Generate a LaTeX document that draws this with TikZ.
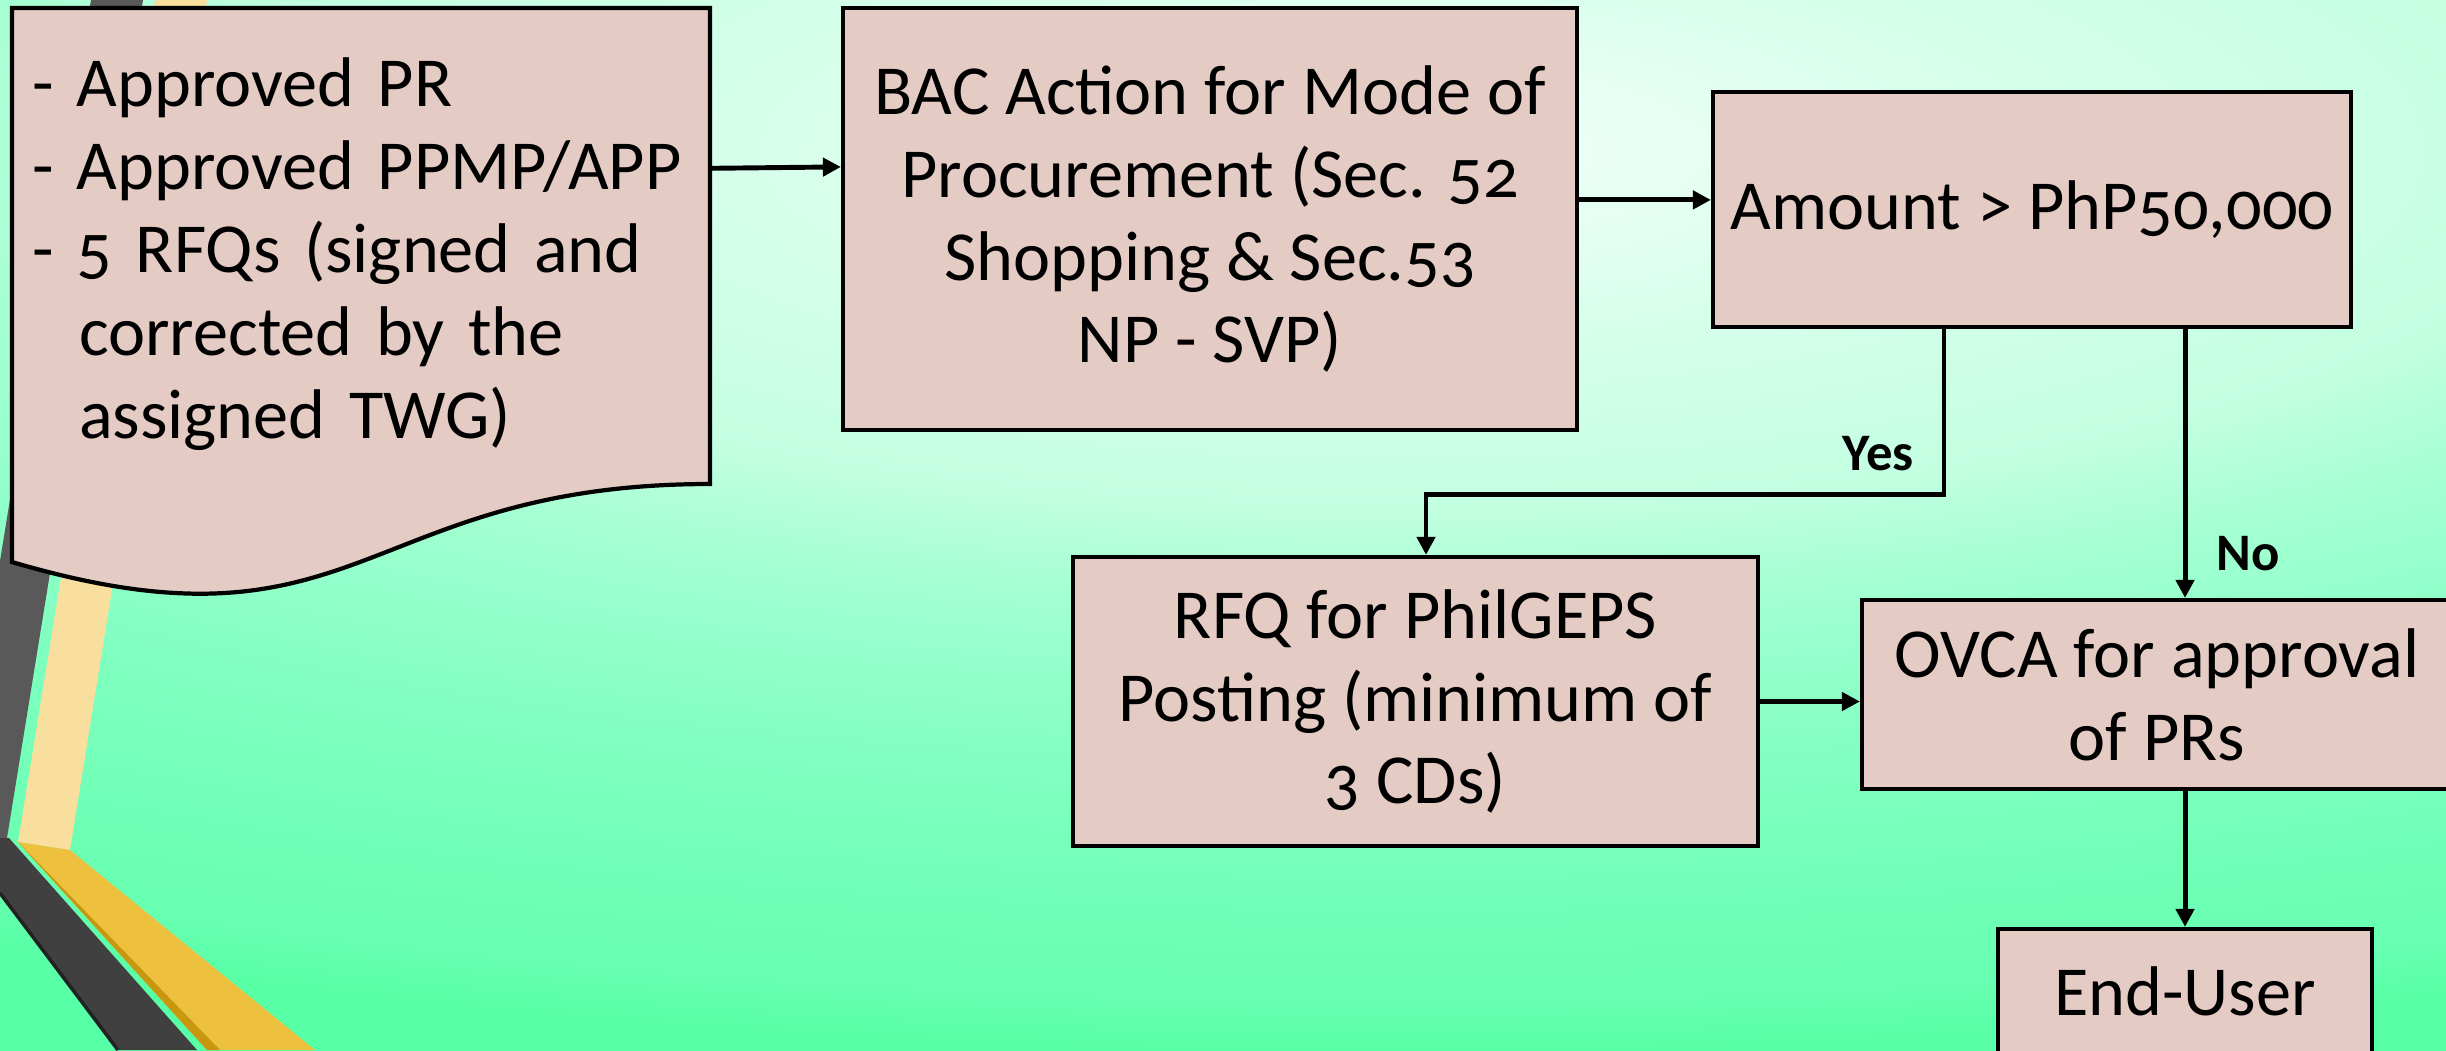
\documentclass[tikz,border=0pt]{standalone}
\usepackage{fontspec}
\setmainfont{Carlito}[Numbers=OldStyle]
\usetikzlibrary{arrows.meta}

\definecolor{boxfill}{HTML}{E4CCC5}
\definecolor{bgA}{HTML}{F2FFF9}
\definecolor{bgB}{HTML}{D8FFEC}
\definecolor{bgC}{HTML}{C2FFE1}
\definecolor{bgD}{HTML}{A4FFD2}
\definecolor{bgE}{HTML}{80FFC0}
\definecolor{bgF}{HTML}{66FFB0}
\definecolor{bgG}{HTML}{58FFA6}
\definecolor{bgH}{HTML}{4CFFA0}
\definecolor{stripegray}{HTML}{595959}
\definecolor{stripedark}{HTML}{404040}
\definecolor{stripeshadow}{HTML}{222222}
\definecolor{stripecream}{HTML}{F8DF9D}
\definecolor{stripegold}{HTML}{EDC03D}
\definecolor{goldshadow}{HTML}{C8960F}

% the path box is mapped on the inner 25bp of the shading
\pgfdeclareradialshading{glow}{\pgfpoint{0bp}{0bp}}{color(0bp)=(bgA); color(5bp)=(bgB); color(10bp)=(bgC); color(12.5bp)=(bgD); color(17.5bp)=(bgE); color(23.75bp)=(bgF); color(25bp)=(bgG); color(50bp)=(bgH)}

\begin{document}
\begin{tikzpicture}[
    flowbox/.style={rectangle, draw=black, line width=1.2pt, fill=boxfill,
        inner sep=0pt, align=center, font=\fontsize{20}{23.6}\selectfont},
    docbox/.style={rectangle, inner xsep=0.2cm, inner ysep=0pt,
        minimum width=6.98cm, minimum height=4.76cm, text width=6.58cm,
        align=left, font=\fontsize{20}{23.6}\selectfont},
    arr/.style={-{Triangle[length=0.18cm,width=0.18cm]}, line width=1.4pt},
    lbl/.style={inner sep=0pt, font=\fontsize{15}{18}\selectfont\bfseries}
    ]

    \useasboundingbox (0,0) rectangle (24.46,-10.5);

    % Background glow and the stripes on the left
    \begin{scope}
        \clip (0,0) rectangle (24.46,-10.5);
        \shade[shading=glow] (-16,-10.5) rectangle (44,7.5);
        %
        \fill[stripegray] (0.91,0) -- (1.43,0) -- (0.07,-8.38) -- (0,-8.38) -- (0,-5.61) -- cycle;
        \fill[stripecream] (1.55,0) -- (2.07,0) -- (0.70,-8.50) -- (0.18,-8.42) -- cycle;
        %
        \fill[stripedark] (0,-8.38) -- (0.09,-8.38) -- (1.97,-10.5) -- (1.18,-10.5) -- (0,-8.93) -- cycle;
        \draw[stripeshadow, line width=1pt] (0,-8.93) -- (1.18,-10.5);
        \fill[stripegold] (0.18,-8.42) -- (0.70,-8.50) -- (3.15,-10.5) -- (2.07,-10.5) -- cycle;
        \fill[goldshadow] (0.18,-8.42) -- (2.20,-10.5) -- (2.07,-10.5) -- cycle;
    \end{scope}

    % Outline of the document shape
    \draw[fill=boxfill, line width=1.2pt] (0.12,-0.08) -- (7.10,-0.08) -- (7.10,-4.84)
        .. controls (3.61,-4.84) and (3.61,-6.65) .. (0.12,-5.62) -- cycle;

    % Boxes
    \node[docbox] (doc) at (3.61,-2.54) {- Approved PR\\- Approved PPMP/APP\\- 5 RFQs (signed and\\\hspace*{0.47cm}corrected by the\\\hspace*{0.47cm}assigned TWG)};
    \node[flowbox, minimum width=7.34cm, minimum height=4.22cm] (bac) at (12.10,-2.19)
        {BAC Action for Mode of\\Procurement (Sec. 52\\Shopping \& Sec.53\\NP - SVP)};
    \node[flowbox, minimum width=6.38cm, minimum height=2.35cm] (amount) at (20.32,-2.095)
        {Amount > PhP50,000};
    \node[flowbox, minimum width=6.85cm, minimum height=2.89cm] (rfq) at (14.155,-7.015)
        {RFQ for PhilGEPS\\Posting (minimum of\\3 CDs)};
    \node[flowbox, minimum width=5.90cm, minimum height=1.89cm] (ovca) at (21.57,-6.945)
        {OVCA for approval\\of PRs};
    \node[flowbox, minimum width=3.74cm, minimum height=1.25cm] (endu) at (21.85,-9.915)
        {End-User};

    % Connectors
    \draw[arr] ([yshift=-1.53cm]doc.north east) -- ([yshift=-1.61cm]bac.north west);
    \draw[arr] ([yshift=-1.94cm]bac.north east) -- ([yshift=-1.94cm]bac.north east -| amount.west);
    \draw[arr] ([xshift=-0.88cm]amount.south)
        -- node[lbl, pos=0.755, anchor=east, xshift=-0.28cm] (yes) {Yes} ++(0,-1.65)
        -| ([xshift=0.105cm]rfq.north);
    \draw[arr] (endu.north |- amount.south)
        -- node[lbl, pos=0.835, anchor=west, xshift=0.29cm] (no) {No} (endu.north |- ovca.north);
    \draw[arr] (rfq.east) -- (rfq.east -| ovca.west);
    \draw[arr] (endu.north |- ovca.south) -- (endu.north);

\end{tikzpicture}
\end{document}
